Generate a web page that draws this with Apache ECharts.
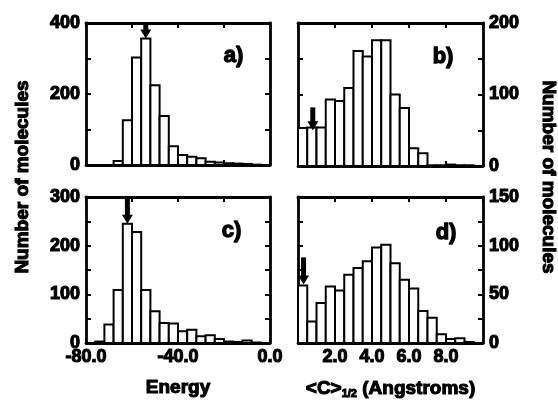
<!DOCTYPE html>
<html><head><meta charset="utf-8">
<script src="https://cdn.jsdelivr.net/npm/echarts@6/dist/echarts.min.js"></script>
<style>html,body{margin:0;padding:0;background:#fff}#c{width:558px;height:400px}</style>
</head><body><div id="c"></div>
<script>
// ---- data ----
const energyMin = -80, energyMax = 0, energyBinWidth = 4;
const cMin = 0, cMax = 10, cBinWidth = 0.5;
const countsA = [0, 0, 0, 11, 126, 303, 356, 225, 138, 53, 28, 23, 19, 9, 7, 5, 4, 3, 1, 0];
const countsB = [53, 54, 54, 93, 91, 109, 161, 153, 176, 176, 100, 81, 25, 18, 1, 1, 2, 1, 1, 0];
const countsC = [0, 3, 38, 109, 245, 228, 109, 65, 41, 40, 24, 27, 14, 16, 8, 3, 2, 5, 1, 0];
const countsD = [59, 22, 41, 58, 54, 70, 77, 84, 98, 101, 82, 65, 56, 33, 26, 9, 4, 5, 1, 0];
const energyTickLabels = [-80, -40, 0];
const cTickLabels = [2, 4, 6, 8];
const yMaxA = 400, yLabelStepA = 200;
const yMaxB = 200, yLabelStepB = 100;
const yMaxC = 300, yLabelStepC = 100;
const yMaxD = 150, yLabelStepD = 50;
// arrows: [x, from, to]
const arrowA = [-54, 400, 356];
const arrowB = [0.8, 82, 50];
const arrowC = [-62, 300, 245];
const arrowD = [0.3, 88, 60];
const panelLabels = ['a)', 'b)', 'c)', 'd)'];

// ---- helpers ----
const FONT = 'Liberation Sans';
const txt = { color: '#000', fontFamily: FONT, fontWeight: 'bold', textBorderColor: '#000', textBorderWidth: 1.1 };
const grids = [
  { left: 86, top: 23, width: 184, height: 142 },
  { left: 298, top: 23, width: 185, height: 143 },
  { left: 86, top: 197, width: 184, height: 146 },
  { left: 298, top: 197, width: 185, height: 146 }
].map(g => Object.assign({ outerBoundsMode: 'none', containLabel: false }, g));

const line = { show: true, onZero: false, lineStyle: { color: '#000', width: 2.8 } };
const tick = { show: true, inside: true, length: 5, lineStyle: { color: '#000', width: 2 } };

function xAxisPair(gi, isEnergy, showLabels, name) {
  const min = isEnergy ? energyMin : cMin, max = isEnergy ? energyMax : cMax;
  const interval = isEnergy ? 20 : 2;
  const labels = isEnergy ? energyTickLabels : cTickLabels;
  const bottom = {
    type: 'value', gridIndex: gi, position: 'bottom', min, max, interval,
    axisLine: line, axisTick: tick, splitLine: { show: false },
    axisLabel: Object.assign({
      show: showLabels, margin: 5, fontSize: 18, showMinLabel: true, showMaxLabel: true,
      formatter: v => labels.some(l => Math.abs(l - v) < 1e-9) ? v.toFixed(1) : ''
    }, txt)
  };
  if (name) Object.assign(bottom, name);
  const top = {
    type: 'value', gridIndex: gi, position: 'top', min, max, interval,
    axisLine: line, axisTick: tick, splitLine: { show: false }, axisLabel: { show: false }
  };
  return [bottom, top];
}
function yAxisPair(gi, ymax, step, labelRight) {
  const mk = (pos, show) => ({
    type: 'value', gridIndex: gi, position: pos, min: 0, max: ymax, interval: step / 2,
    axisLine: line, axisTick: tick, splitLine: { show: false },
    axisLabel: Object.assign({
      show, margin: 6, fontSize: 18, showMinLabel: true, showMaxLabel: true,
      formatter: v => (Math.round(v) % step === 0) ? String(v) : ''
    }, txt)
  });
  return [mk('left', !labelRight), mk('right', labelRight)];
}

const xAxes = [
  ...xAxisPair(0, true, false),
  ...xAxisPair(1, false, false),
  ...xAxisPair(2, true, true, { name: 'Energy', nameLocation: 'middle', nameGap: 35,
      nameTextStyle: Object.assign({ fontSize: 19 }, txt) }),
  ...xAxisPair(3, false, true, { name: '<C>{sub|1/2} (Angstroms)', nameLocation: 'middle', nameGap: 35,
      nameTextStyle: Object.assign({ fontSize: 19, rich: { sub: Object.assign({ fontSize: 11, verticalAlign: 'bottom', padding: [10, 0, 0, 0] }, txt) } }, txt) })
];
const yAxes = [
  ...yAxisPair(0, yMaxA, yLabelStepA, false),
  ...yAxisPair(1, yMaxB, yLabelStepB, true),
  ...yAxisPair(2, yMaxC, yLabelStepC, false),
  ...yAxisPair(3, yMaxD, yLabelStepD, true)
];

function histData(counts, start, w) {
  return counts.map((v, i) => [start + i * w, start + (i + 1) * w, v]);
}
function histItem(params, api) {
  const x0 = api.value(0), x1 = api.value(1), y = api.value(2);
  const p0 = api.coord([x0, 0]), p1 = api.coord([x1, y]);
  return {
    type: 'rect',
    shape: { x: p0[0], y: p1[1], width: p1[0] - p0[0], height: p0[1] - p1[1] },
    style: { fill: '#fff', stroke: '#000', lineWidth: 2 }
  };
}
function arrowItem(params, api) {
  const x = api.value(0), yFrom = api.value(1), yTo = api.value(2);
  const a = api.coord([x, yFrom]), b = api.coord([x, yTo]);
  const head = 9, hw = 5.5;
  return {
    type: 'group', children: [
      { type: 'line', shape: { x1: a[0], y1: a[1], x2: b[0], y2: b[1] - head + 1 }, style: { stroke: '#000', lineWidth: 5 } },
      { type: 'polygon', shape: { points: [[b[0] - hw, b[1] - head], [b[0] + hw, b[1] - head], [b[0], b[1]]] }, style: { fill: '#000' } }
    ]
  };
}
const countsAll = [countsA, countsB, countsC, countsD];
const arrows = [arrowA, arrowB, arrowC, arrowD];
const series = [];
countsAll.forEach((c, i) => {
  const energy = (i % 2 === 0);
  series.push({
    type: 'custom', xAxisIndex: i * 2, yAxisIndex: i * 2, renderItem: histItem, clip: false,
    data: histData(c, energy ? energyMin : cMin, energy ? energyBinWidth : cBinWidth), z: 1, silent: true
  });
  series.push({
    type: 'custom', xAxisIndex: i * 2, yAxisIndex: i * 2, renderItem: arrowItem, clip: false,
    data: [arrows[i]], z: 5, silent: true
  });
});

const labelPos = [[223, 44], [432, 45], [221, 219], [435, 221]];
const graphic = panelLabels.map((t, i) => ({
  type: 'text', left: labelPos[i][0], top: labelPos[i][1],
  style: { text: t, fill: '#000', stroke: '#000', lineWidth: 1.3, font: 'bold 22px "Liberation Sans"' }
}));
graphic.push({
  type: 'text', x: 23, y: 177, rotation: Math.PI / 2,
  style: { text: 'Number of molecules', fill: '#000', stroke: '#000', lineWidth: 1.1, font: 'bold 19px "Liberation Sans"', textAlign: 'center', textVerticalAlign: 'middle' }
});
graphic.push({
  type: 'text', x: 548, y: 177, rotation: -Math.PI / 2,
  style: { text: 'Number of molecules', fill: '#000', stroke: '#000', lineWidth: 1.1, font: 'bold 19px "Liberation Sans"', textAlign: 'center', textVerticalAlign: 'middle' }
});

const chart = echarts.init(document.getElementById('c'), null, { renderer: 'canvas' });
chart.setOption({
  animation: false,
  backgroundColor: '#fff',
  grid: grids,
  xAxis: xAxes,
  yAxis: yAxes,
  series,
  graphic
});
</script></body></html>
